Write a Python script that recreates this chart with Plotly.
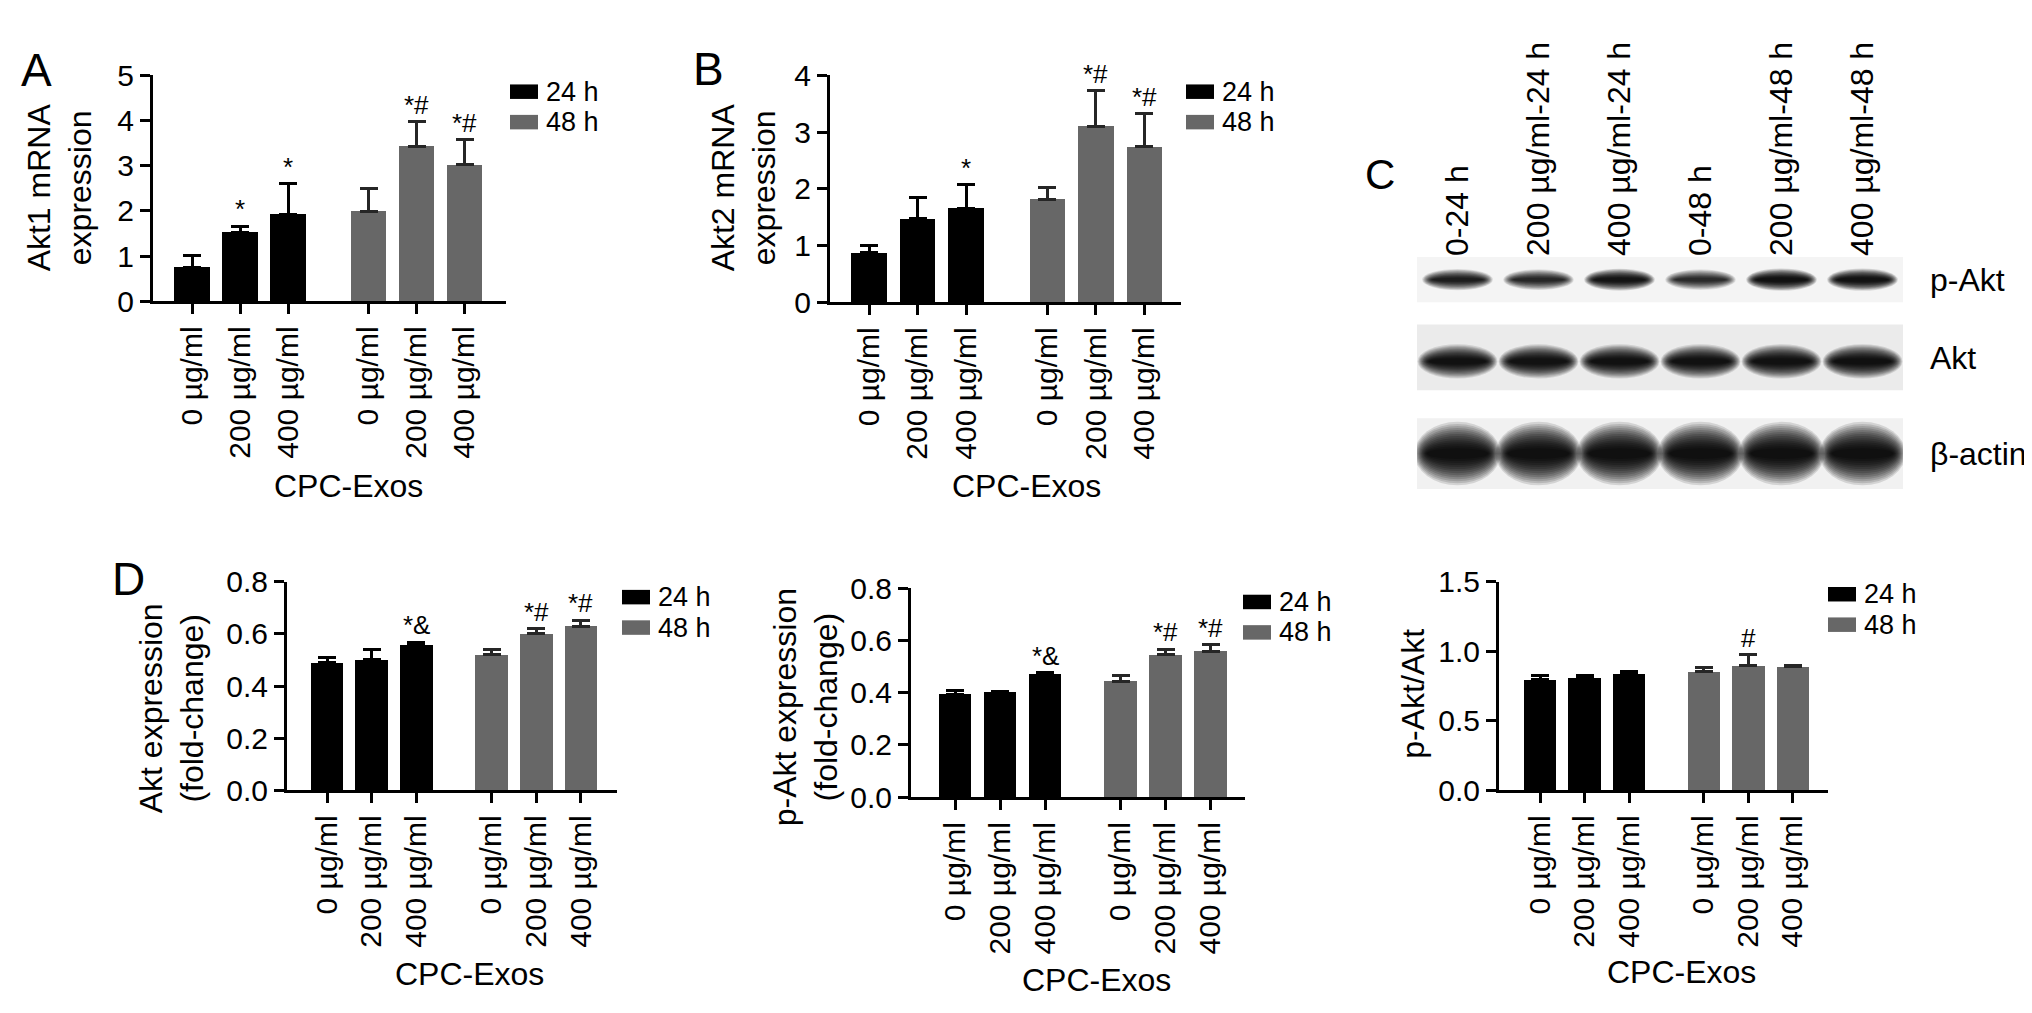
import plotly.graph_objects as go

# ---------------- data ----------------
doses = ["0 µg/ml", "200 µg/ml", "400 µg/ml"]
tick_labels = doses + doses
groups = ["24 h", "48 h"]

akt1_24 = [0.75, 1.52, 1.92]
akt1_24_err = [0.27, 0.14, 0.68]
akt1_48 = [1.99, 3.43, 3.02]
akt1_48_err = [0.50, 0.54, 0.55]
akt1_sig_24 = ["", "*", "*"]
akt1_sig_48 = ["", "*#", "*#"]

akt2_24 = [0.87, 1.47, 1.66]
akt2_24_err = [0.13, 0.38, 0.41]
akt2_48 = [1.82, 3.10, 2.74]
akt2_48_err = [0.21, 0.63, 0.58]
akt2_sig_24 = ["", "", "*"]
akt2_sig_48 = ["", "*#", "*#"]

akt_24 = [0.49, 0.503, 0.56]
akt_24_err = [0.02, 0.037, 0.007]
akt_48 = [0.52, 0.60, 0.63]
akt_48_err = [0.02, 0.02, 0.022]
akt_sig_24 = ["", "", "*&"]
akt_sig_48 = ["", "*#", "*#"]

pakt_24 = [0.393, 0.40, 0.471]
pakt_24_err = [0.015, 0.005, 0.006]
pakt_48 = [0.444, 0.545, 0.557]
pakt_48_err = [0.023, 0.022, 0.027]
pakt_sig_24 = ["", "", "*&"]
pakt_sig_48 = ["", "*#", "*#"]

ratio_24 = [0.795, 0.807, 0.842]
ratio_24_err = [0.033, 0.021, 0.009]
ratio_48 = [0.851, 0.90, 0.888]
ratio_48_err = [0.029, 0.074, 0.012]
ratio_sig_24 = ["", "", ""]
ratio_sig_48 = ["", "#", ""]

lane_labels = ["0-24 h", "200 µg/ml-24 h", "400 µg/ml-24 h",
               "0-48 h", "200 µg/ml-48 h", "400 µg/ml-48 h"]
blot_rows = ["p-Akt", "Akt", "β-actin"]
band_pakt = [0.80, 0.70, 0.92, 0.66, 0.98, 0.96]
band_akt = [0.96, 0.95, 0.96, 0.96, 0.97, 0.99]
band_actin = [1.0, 1.0, 1.0, 1.0, 1.0, 1.0]

# ---------------- style ----------------
W, H = 2032, 1013
FONT = "Liberation Sans, Arial, Helvetica, sans-serif"
FS = 32          # titles
FS_XT = 30       # rotated category tick labels
FS_YT = 30       # numeric tick labels
FS_LEG = 27
LEG_STEP = 31.5
C24, C48 = "#000000", "#676767"
ERR48 = "#262626"
GROUP_GAP = 3.68
BAR_W = 0.73
positions = [0, 1, 2, GROUP_GAP, GROUP_GAP + 1, GROUP_GAP + 2]


def px_x(p):
    return p / W


def px_y(p):
    return 1 - p / H


# geometry in pixels: left(y axis), right(axis end), top (ymax), bottom (0), x0 (first bar), ppu
panels = [
    dict(v24=akt1_24, e24=akt1_24_err, v48=akt1_48, e48=akt1_48_err, s24=akt1_sig_24, s48=akt1_sig_48,
         ymax=5, ytick=[0, 1, 2, 3, 4, 5], fmt="d", left=145, right=498, top=52, bottom=286, x0=184, ppu=48,
         ytitle="Akt1 mRNA<br>expression", yt_xy=(52, 168), xt_xy=(340, 477), leg=(502, 69)),
    dict(v24=akt2_24, e24=akt2_24_err, v48=akt2_48, e48=akt2_48_err, s24=akt2_sig_24, s48=akt2_sig_48,
         ymax=4, ytick=[0, 1, 2, 3, 4], fmt="d", left=822, right=1173, top=52, bottom=287, x0=861, ppu=48.5,
         ytitle="Akt2 mRNA<br>expression", yt_xy=(736, 168), xt_xy=(1018, 477), leg=(1178, 69)),
    dict(v24=akt_24, e24=akt_24_err, v48=akt_48, e48=akt_48_err, s24=akt_sig_24, s48=akt_sig_48,
         ymax=0.8, ytick=[0, 0.2, 0.4, 0.6, 0.8], fmt=".1f", left=279, right=609, top=576, bottom=792, x0=319,
         ppu=44.7, ytitle="Akt expression<br>(fold-change)", yt_xy=(164, 707), xt_xy=(461, 982),
         leg=(614, 592)),
    dict(v24=pakt_24, e24=pakt_24_err, v48=pakt_48, e48=pakt_48_err, s24=pakt_sig_24, s48=pakt_sig_48,
         ymax=0.8, ytick=[0, 0.2, 0.4, 0.6, 0.8], fmt=".1f", left=903, right=1237, top=583, bottom=799, x0=947,
         ppu=45, ytitle="p-Akt expression<br>(fold-change)", yt_xy=(798, 706), xt_xy=(1088, 988),
         leg=(1235, 597)),
    dict(v24=ratio_24, e24=ratio_24_err, v48=ratio_48, e48=ratio_48_err, s24=ratio_sig_24, s48=ratio_sig_48,
         ymax=1.5, ytick=[0, 0.5, 1.0, 1.5], fmt=".1f", left=1491, right=1820, top=576, bottom=792, x0=1532,
         ppu=44.5, ytitle="p-Akt/Akt", yt_xy=(1405, 692), xt_xy=(1673, 980), leg=(1820, 589)),
]

fig = go.Figure()
annotations = []
shapes = []
axis_common = dict(showline=True, linewidth=3, linecolor="black", ticks="outside", ticklen=10,
                   tickwidth=3, tickcolor="black", showgrid=False, zeroline=False)

for i, p in enumerate(panels):
    n = i + 1
    xa = "x" if n == 1 else f"x{n}"
    ya = "y" if n == 1 else f"y{n}"
    xr = [(p["left"] - p["x0"]) / p["ppu"], (p["right"] - p["x0"]) / p["ppu"]]
    fig.layout[f"xaxis{'' if n == 1 else n}"] = dict(
        axis_common, domain=[px_x(p["left"]), px_x(p["right"])], range=xr, anchor=ya,
        tickvals=positions, ticktext=tick_labels, tickangle=-90,
        tickfont=dict(family=FONT, size=FS_XT, color="black"))
    fig.layout[f"yaxis{'' if n == 1 else n}"] = dict(
        axis_common, domain=[px_y(p["bottom"]), px_y(p["top"])], range=[0, p["ymax"]], anchor=xa,
        tickvals=p["ytick"], tickformat=p["fmt"],
        tickfont=dict(family=FONT, size=FS_YT, color="black"))
    for g, (vals, errs, sigs, col, ecol) in enumerate([
            (p["v24"], p["e24"], p["s24"], C24, C24),
            (p["v48"], p["e48"], p["s48"], C48, ERR48)]):
        xs = positions[g * 3:(g + 1) * 3]
        fig.add_trace(go.Bar(
            x=xs, y=vals, width=BAR_W, name=groups[g], xaxis=xa, yaxis=ya,
            marker=dict(color=col, line=dict(width=0)), showlegend=False,
            error_y=dict(type="data", array=errs, arrayminus=[0] * len(errs), symmetric=False,
                         color=ecol, thickness=3, width=9)))
        for xv, v, e, s in zip(xs, vals, errs, sigs):
            if s:
                annotations.append(dict(x=xv, y=v + e, xref=xa, yref=ya, text=s, showarrow=False,
                                        yanchor="bottom", yshift=0,
                                        font=dict(family=FONT, size=26, color="black")))
    # axis titles
    yx, yy = p["yt_xy"]
    annotations.append(dict(x=px_x(yx), y=px_y(yy), xref="paper", yref="paper", text=p["ytitle"],
                            textangle=-90, showarrow=False, xanchor="center", yanchor="middle",
                            font=dict(family=FONT, size=FS, color="black")))
    tx, ty = p["xt_xy"]
    annotations.append(dict(x=px_x(tx), y=px_y(ty), xref="paper", yref="paper", text="CPC-Exos",
                            showarrow=False, xanchor="center", yanchor="middle",
                            font=dict(family=FONT, size=FS, color="black")))
    # legend
    lx, ly = p["leg"]
    for g, col in enumerate([C24, C48]):
        cy = ly + g * LEG_STEP
        shapes.append(dict(type="rect", xref="paper", yref="paper", x0=px_x(lx), x1=px_x(lx + 28),
                           y0=px_y(cy + 7.5), y1=px_y(cy - 7.5), fillcolor=col, line=dict(width=0)))
        annotations.append(dict(x=px_x(lx + 35), y=px_y(cy), xref="paper", yref="paper", text=groups[g],
                                showarrow=False, xanchor="left", yanchor="middle", borderpad=0,
                                font=dict(family=FONT, size=FS_LEG, color="black")))

# ---------------- western blot (panel C) ----------------
strip_x = (1409, 1895)
strips = [
    dict(rows=blot_rows[0], bands=band_pakt, top=240, bottom=287, bg="#f4f4f4", w=0.78, h=0.66, yc=0.0),
    dict(rows=blot_rows[1], bands=band_akt, top=310, bottom=378, bg="#ebebeb", w=0.88, h=0.70, yc=-0.12),
    dict(rows=blot_rows[2], bands=band_actin, top=407, bottom=480, bg="#f1f1f1", w=0.95, h=1.20, yc=0.0),
]
N_LAYERS = 14
band_layers = []
for j in range(N_LAYERS):
    t = j / (N_LAYERS - 1)
    band_layers.append((1.12 - 0.32 * t, 1.5 - 1.25 * t, 0.12 + 0.1 * t))
lanes = list(range(len(lane_labels)))
for k, s in enumerate(strips):
    n = 6 + k
    xa, ya = f"x{n}", f"y{n}"
    fig.layout[f"xaxis{n}"] = dict(
        domain=[px_x(strip_x[0]), px_x(strip_x[1])], range=[-0.5, 5.5], anchor=ya,
        showgrid=False, zeroline=False, showline=False, ticks="",
        side="top", tickvals=lanes, ticktext=lane_labels, tickangle=-90,
        showticklabels=(k == 0), tickfont=dict(family=FONT, size=FS, color="black"))
    fig.layout[f"yaxis{n}"] = dict(
        domain=[px_y(s["bottom"]), px_y(s["top"])], range=[-1, 1], anchor=xa, side="right",
        showgrid=False, zeroline=False, showline=False, ticks="", tickvals=[0],
        ticktext=[s["rows"]], ticklabelstandoff=26,
        tickfont=dict(family=FONT, size=FS, color="black"))
    shapes.append(dict(type="rect", xref=f"{xa} domain", yref=f"{ya} domain", x0=0, x1=1, y0=0, y1=1,
                       fillcolor=s["bg"], line=dict(width=0), layer="below"))
    for lane, inten in zip(lanes, s["bands"]):
        hh = s["h"] * (0.75 + 0.25 * inten)
        for sw, sh, a in band_layers:
            shapes.append(dict(type="circle", xref=xa, yref=ya,
                               x0=lane - s["w"] * sw / 2, x1=lane + s["w"] * sw / 2,
                               y0=s["yc"] - hh * sh / 2, y1=s["yc"] + hh * sh / 2,
                               fillcolor=f"rgba(0,0,0,{a * inten:.3f})", line=dict(width=0)))
    fig.add_trace(go.Scatter(x=[None], y=[None], xaxis=xa, yaxis=ya, showlegend=False))

# panel letters
for letter, (lx, ly, fs) in {"A": (28, 47, 46), "B": (700, 46, 46), "C": (1372, 155, 42),
                             "D": (120, 573, 46)}.items():
    annotations.append(dict(x=px_x(lx), y=px_y(ly), xref="paper", yref="paper", text=letter,
                            showarrow=False, xanchor="center", yanchor="middle",
                            font=dict(family=FONT, size=fs, color="black")))

fig.update_layout(width=W, height=H, margin=dict(l=0, r=0, t=0, b=0), autosize=False,
                  paper_bgcolor="white", plot_bgcolor="white", showlegend=False,
                  bargap=0, annotations=annotations, shapes=shapes,
                  font=dict(family=FONT, size=FS, color="black"))
fig.write_html("out.html")
